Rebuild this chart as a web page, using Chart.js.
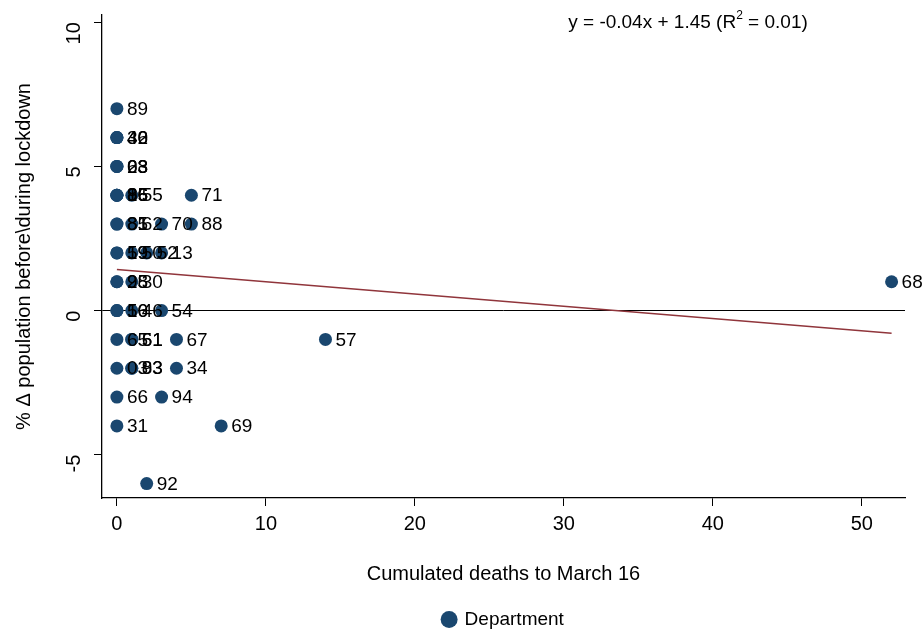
<!DOCTYPE html>
<html>
<head>
<meta charset="utf-8">
<script src="https://cdn.jsdelivr.net/npm/chart.js@4"></script>
<style>
  html, body { margin: 0; padding: 0; background: #fff; }
  #wrap { width: 924px; height: 633px; }
</style>
</head>
<body>
<div id="wrap"><canvas id="chart" width="924" height="633"></canvas></div>
<script>
// Data
const deaths = [0, 0, 0, 0, 0, 0, 0, 0, 0, 0, 0, 1, 5, 0, 0, 1, 3, 5, 0, 0, 1, 2, 3, 0, 0, 1, 52, 0, 0, 1, 3, 0, 1, 1, 4, 14, 0, 1, 1, 4, 0, 3, 0, 7, 2];
const popChange = [7, 6, 6, 6, 5, 5, 5, 4, 4, 4, 4, 4, 4, 3, 3, 3, 3, 3, 2, 2, 2, 2, 2, 1, 1, 1, 1, 0, 0, 0, 0, -1, -1, -1, -1, -1, -2, -2, -2, -2, -3, -3, -4, -4, -6];
const deptCodes = ["89", "40", "32", "46", "08", "23", "63", "16", "85", "86", "96", "55", "71", "81", "85", "62", "70", "88", "59", "19", "50", "52", "13", "95", "28", "30", "68", "56", "10", "46", "54", "65", "61", "51", "67", "57", "03", "93", "83", "34", "66", "94", "31", "69", "92"];
// fitted line y = -0.04x + 1.45, endpoints as drawn
const fitX = [0, 52];
const fitY = [1.42, -0.79];
const xTicks = [0, 10, 20, 30, 40, 50];
const yTicks = [-5, 0, 5, 10];

const navy = "#1a476f";
const maroon = "#90353b";
const font = "'Liberation Sans', Arial, sans-serif";

const points = deaths.map((d, i) => ({ x: d, y: popChange[i], label: deptCodes[i] }));
const fitPoints = fitX.map((x, i) => ({ x: x, y: fitY[i] }));

// Draw the department code next to every point, plus the fit equation
const pointLabels = {
  id: "pointLabels",
  afterDatasetsDraw(chart) {
    const ctx = chart.ctx;
    const meta = chart.getDatasetMeta(0);
    ctx.save();
    ctx.font = "19px " + font;
    ctx.fillStyle = "#000";
    ctx.textBaseline = "middle";
    meta.data.forEach((el, i) => {
      ctx.fillText(points[i].label, el.x + 10, el.y + 1);
    });
    const area = chart.chartArea;
    const cx = area.right - 217;
    const cy = area.top + 8;
    const left = "y = -0.04x + 1.45 (R";
    const right = " = 0.01)";
    ctx.font = "19px " + font;
    const wl = ctx.measureText(left).width;
    const wr = ctx.measureText(right).width;
    ctx.font = "12px " + font;
    const ws = ctx.measureText("2").width;
    const x0 = cx - (wl + ws + wr) / 2;
    ctx.font = "19px " + font;
    ctx.fillText(left, x0, cy);
    ctx.fillText(right, x0 + wl + ws, cy);
    ctx.font = "12px " + font;
    ctx.fillText("2", x0 + wl, cy - 7);
    ctx.restore();
  }
};

new Chart(document.getElementById("chart"), {
  type: "scatter",
  data: {
    datasets: [
      {
        label: "Department",
        data: points,
        backgroundColor: navy,
        borderColor: navy,
        pointRadius: 6.5,
        pointHoverRadius: 6.5,
        borderWidth: 0
      },
      {
        label: "fit",
        type: "line",
        data: fitPoints,
        borderColor: maroon,
        borderWidth: 1.5,
        pointRadius: 0,
        fill: false
      }
    ]
  },
  options: {
    responsive: false,
    animation: false,
    layout: { padding: { left: 0, right: 19, top: 15, bottom: -6 } },
    plugins: {
      tooltip: { enabled: false },
      legend: {
        position: "bottom",
        fullSize: false,
        labels: {
          filter: item => item.datasetIndex === 0,
          usePointStyle: true,
          pointStyle: "circle",
          boxWidth: 12,
          boxHeight: 12,
          padding: 4,
          color: "#000",
          font: { family: font, size: 19 }
        }
      }
    },
    scales: {
      x: {
        type: "linear",
        min: -1,
        max: 52.9,
        afterBuildTicks: s => { s.ticks = xTicks.map(v => ({ value: v })); },
        border: { display: true, color: "#000", width: 1.3 },
        grid: { display: true, drawOnChartArea: false, drawTicks: true, tickLength: 8, tickColor: "#000" },
        ticks: { color: "#000", font: { family: font, size: 20 }, padding: 6, maxRotation: 0 },
        title: { display: true, text: "Cumulated deaths to March 16", color: "#000", font: { family: font, size: 20 }, padding: { top: 20, bottom: 20 } }
      },
      y: {
        type: "linear",
        min: -6.5,
        max: 10.25,
        afterBuildTicks: s => { s.ticks = yTicks.map(v => ({ value: v })); },
        afterFit: s => { s.width = 102; s.paddingTop = 0; s.paddingBottom = 0; },
        border: { display: true, color: "#000", width: 1.3 },
        grid: {
          display: true,
          drawOnChartArea: true,
          drawTicks: true,
          tickLength: 8,
          tickColor: "#000",
          color: c => (c.tick && c.tick.value === 0 ? "#000" : "rgba(0,0,0,0)"),
          lineWidth: 1
        },
        ticks: { color: "#000", font: { family: font, size: 20 }, padding: 20, minRotation: 90, maxRotation: 90 },
        title: { display: true, text: "% \u0394 population before\\during lockdown", color: "#000", font: { family: font, size: 20 }, padding: { top: 12, bottom: 6 } }
      }
    }
  },
  plugins: [pointLabels]
});
</script>
</body>
</html>
